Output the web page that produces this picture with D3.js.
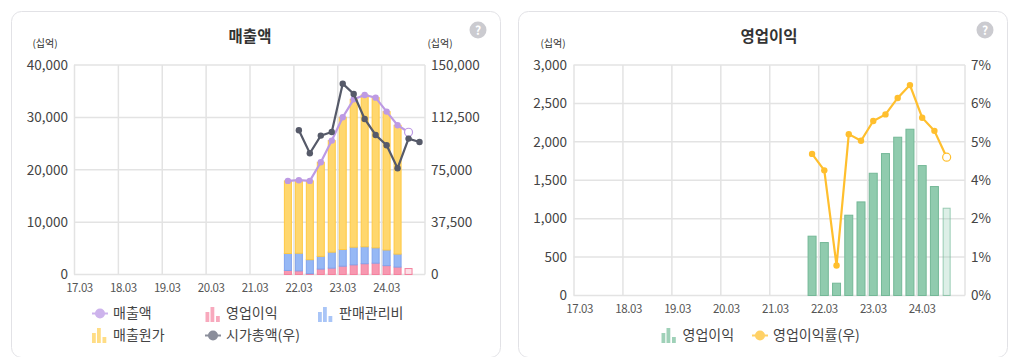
<!DOCTYPE html>
<html>
<head>
<meta charset="utf-8">
<script src="https://cdn.jsdelivr.net/npm/d3@7"></script>
<style>
html, body { margin: 0; padding: 0; background: #fff; overflow: hidden; }
svg { display: block; }
text { font-family: "Noto Sans CJK KR", "Noto Sans", sans-serif; }
.axis path, .axis line { display: none; }
</style>
</head>
<body>
<div id="chart"></div>
<script>
// quarters 17.03 ~ 24.12
var years = ["17", "18", "19", "20", "21", "22", "23", "24"];
var months = ["03", "06", "09", "12"];
var categories = [];
years.forEach(function(y) { months.forEach(function(m) { categories.push(y + "." + m); }); });
var yearLabels = ["17.03", "18.03", "19.03", "20.03", "21.03", "22.03", "23.03", "24.03"];

var salesCats = ["21.12", "22.03", "22.06", "22.09", "22.12", "23.03", "23.06", "23.09", "23.12", "24.03", "24.06", "24.09"];
var capCats = ["22.03", "22.06", "22.09", "22.12", "23.03", "23.06", "23.09", "23.12", "24.03", "24.06", "24.09", "24.12"];

var sales = [17870, 18000, 17870, 21430, 25570, 30020, 33450, 34280, 33770, 31100, 28490, 27160];
var opProfit = [772, 689, 160, 1045, 1218, 1591, 1847, 2060, 2164, 1691, 1418, 1136];
var sga = [3240, 3370, 2670, 2420, 3050, 3180, 3370, 3240, 2930, 2990, 2480, 0];
var cogs = [13860, 13940, 15040, 17970, 21300, 25250, 28230, 28980, 28680, 26420, 24590, 0];
var marketCap = [103270, 86810, 99450, 102080, 136660, 129270, 111380, 99930, 92540, 76080, 97310, 94920];
var opMargin = [4.30, 3.80, 0.91, 4.90, 4.70, 5.30, 5.50, 6.00, 6.39, 5.40, 5.00, 4.20];

var salesTicks = [0, 10000, 20000, 30000, 40000];
var capTicks = [0, 37500, 75000, 112500, 150000];
var profitTicks = [0, 500, 1000, 1500, 2000, 2500, 3000];
var marginTicks = [0, 7 / 6, 14 / 6, 3.5, 28 / 6, 35 / 6, 7];

var PURPLE = "#bd9ae4", PINK = "#f798b0", BLUE = "#96b8f5", YELLOW = "#ffd76e", SLATE = "#565a69";
var GREEN = "#90cbae", GOLD = "#ffbf2e";
var TEXT = "#444";
var strokes = {};
strokes[PINK] = "#f4819e";
strokes[BLUE] = "#80a3ec";
strokes[YELLOW] = "#ffc944";

var svg = d3.select("#chart").append("svg").attr("width", 1014).attr("height", 357);

function card(x, w, title, titleX) {
    svg.append("rect").attr("x", x + 0.5).attr("y", 11.5).attr("width", w).attr("height", 346)
        .attr("rx", 10).attr("fill", "#fff").attr("stroke", "#e2e2e6");
    svg.append("text").attr("x", titleX).attr("y", 42).attr("text-anchor", "middle")
        .attr("font-size", 15.5).attr("font-weight", 700).attr("fill", "#333").text(title);
    svg.append("circle").attr("cx", x + w - 22).attr("cy", 30).attr("r", 8.5).attr("fill", "#cbcbd0");
    svg.append("text").attr("x", x + w - 22).attr("y", 34.5).attr("text-anchor", "middle")
        .attr("font-size", 12).attr("font-weight", 700).attr("fill", "#fff").text("?");
}

// frame, gridlines and year labels shared by both charts
function frame(x0, x1, y0, y1, yTicks, yScale) {
    var x = d3.scaleBand().domain(categories).range([x0, x1]);
    var g = svg.append("g");
    g.selectAll("line.v").data(yearLabels).enter().append("line")
        .attr("x1", function(d) { return x(d) + 0.5; })
        .attr("x2", function(d) { return x(d) + 0.5; })
        .attr("y1", y1).attr("y2", y0)
        .attr("stroke", "#e3e3e3").attr("stroke-width", 1.5);
    g.selectAll("line.h").data(yTicks).enter().append("line")
        .attr("x1", x0).attr("x2", x1)
        .attr("y1", function(d) { return yScale(d); })
        .attr("y2", function(d) { return yScale(d); })
        .attr("stroke", "#e3e3e3").attr("stroke-width", 1.5);
    g.append("line").attr("x1", x1).attr("x2", x1).attr("y1", y1).attr("y2", y0)
        .attr("stroke", "#e3e3e3").attr("stroke-width", 1.5);

    var ax = svg.append("g").attr("class", "axis")
        .attr("transform", "translate(0," + y0 + ")")
        .call(d3.axisBottom(x).tickValues(yearLabels).tickSize(0).tickPadding(9));
    ax.selectAll("text").attr("font-size", 11.5).attr("fill", "#555").style("letter-spacing", "-0.4px");
    return x;
}

function yAxis(gen, px, size) {
    var a = svg.append("g").attr("class", "axis")
        .attr("transform", "translate(" + px + ",0)")
        .call(gen.tickSize(0).tickPadding(0));
    a.selectAll("text").attr("font-size", size).attr("fill", TEXT);
    return a;
}

function unit(px, py) {
    svg.append("text").attr("x", px).attr("y", py).attr("text-anchor", "middle")
        .attr("font-size", 10).attr("fill", "#333").text("(십억)");
}

function lineMarks(x, y, cats, vals, color, r, hollowLast) {
    var line = d3.line()
        .x(function(d, i) { return x(cats[i]) + x.bandwidth() / 2; })
        .y(function(d) { return y(d); });
    svg.append("path").attr("d", line(vals)).attr("fill", "none")
        .attr("stroke", color).attr("stroke-width", 2.2);
    svg.append("g").selectAll("circle").data(vals).enter().append("circle")
        .attr("cx", function(d, i) { return x(cats[i]) + x.bandwidth() / 2; })
        .attr("cy", function(d) { return y(d); })
        .attr("r", function(d, i) { return hollowLast && i == vals.length - 1 ? 4 : r; })
        .attr("fill", function(d, i) { return hollowLast && i == vals.length - 1 ? "#fff" : color; })
        .attr("stroke", function(d, i) { return hollowLast && i == vals.length - 1 ? color : "none"; })
        .attr("stroke-width", 1.2);
}

function legendBars(px, py, color) {
    [[0, 10], [5, 15], [10.5, 6]].forEach(function(b) {
        svg.append("rect").attr("x", px + b[0]).attr("y", py + 8 - b[1])
            .attr("width", 3.8).attr("height", b[1]).attr("fill", color);
    });
}

function legendLine(px, py, color) {
    svg.append("line").attr("x1", px).attr("x2", px + 16).attr("y1", py).attr("y2", py)
        .attr("stroke", color).attr("stroke-width", 2);
    svg.append("circle").attr("cx", px + 8).attr("cy", py).attr("r", 5).attr("fill", color);
}

function legendText(px, py, label) {
    svg.append("text").attr("x", px).attr("y", py + 4.5).attr("font-size", 14)
        .attr("fill", "#444").text(label);
}

// ---- left: sales
card(11, 489, "매출액", 250);
unit(45, 47);
unit(440, 47);

var yL = d3.scaleLinear().domain([0, 40000]).range([274.5, 65]);
var yCap = d3.scaleLinear().domain([0, 150000]).range([274.5, 65]);
var xL = frame(74, 425, 274.5, 65, salesTicks, yL);
yAxis(d3.axisLeft(yL).tickValues(salesTicks).tickFormat(d3.format(",")), 68, 13.5);
yAxis(d3.axisRight(yCap).tickValues(capTicks).tickFormat(d3.format(",")), 431, 13.5);

var barW = 7;
salesCats.forEach(function(c, i) {
    var last = i == salesCats.length - 1;
    var stack = [[opProfit[i], PINK], [sga[i], BLUE], [cogs[i], YELLOW]];
    var base = 0;
    stack.forEach(function(s) {
        if (s[0] > 0) {
            svg.append("rect")
                .attr("x", xL(c) + (xL.bandwidth() - barW) / 2)
                .attr("y", yL(base + s[0]))
                .attr("width", barW)
                .attr("height", yL(base) - yL(base + s[0]))
                .attr("fill", s[1]).attr("fill-opacity", last ? 0.3 : 1)
                .attr("stroke", strokes[s[1]]);
        }
        base += s[0];
    });
});
lineMarks(xL, yL, salesCats, sales, PURPLE, 3.2, true);
lineMarks(xL, yCap, capCats, marketCap, SLATE, 3.2, false);

legendLine(92, 313.5, "#cdb3ec");
legendText(113, 313.5, "매출액");
legendBars(205.5, 314, "#f8a9bd");
legendText(226, 313.5, "영업이익");
legendBars(318, 314, "#a9c5f7");
legendText(339, 313.5, "판매관리비");
legendBars(92, 335, "#ffdd85");
legendText(113, 335.5, "매출원가");
legendLine(205, 335.5, "#8b8e9b");
legendText(226, 335.5, "시가총액(우)");

// ---- right: operating profit
card(518, 489, "영업이익", 769);
unit(553, 47);

var yP = d3.scaleLinear().domain([0, 3000]).range([295.5, 65]);
var yM = d3.scaleLinear().domain([0, 7]).range([295.5, 65]);
var xR = frame(573.5, 965, 295.5, 65, profitTicks, yP);
yAxis(d3.axisLeft(yP).tickValues(profitTicks).tickFormat(d3.format(",")), 567, 13.5);
yAxis(d3.axisRight(yM).tickValues(marginTicks).tickFormat(function(d) { return d3.format(".0f")(d) + "%"; }), 971, 13.5);

salesCats.forEach(function(c, i) {
    var last = i == salesCats.length - 1;
    var w = last ? 7 : 8;
    svg.append("rect")
        .attr("x", xR(c) + (xR.bandwidth() - w) / 2)
        .attr("y", yP(opProfit[i]))
        .attr("width", w)
        .attr("height", yP(0) - yP(opProfit[i]))
        .attr("fill", GREEN).attr("fill-opacity", last ? 0.3 : 1)
        .attr("stroke", "#74b897").attr("stroke-opacity", last ? 0.7 : 1);
});
lineMarks(xR, yM, salesCats, opMargin, GOLD, 3.2, true);

legendBars(661.5, 335, "#9fd1b8");
legendText(682.5, 335.5, "영업이익");
legendLine(752, 335.5, "#ffd166");
legendText(773, 335.5, "영업이익률(우)");
</script>
</body>
</html>
